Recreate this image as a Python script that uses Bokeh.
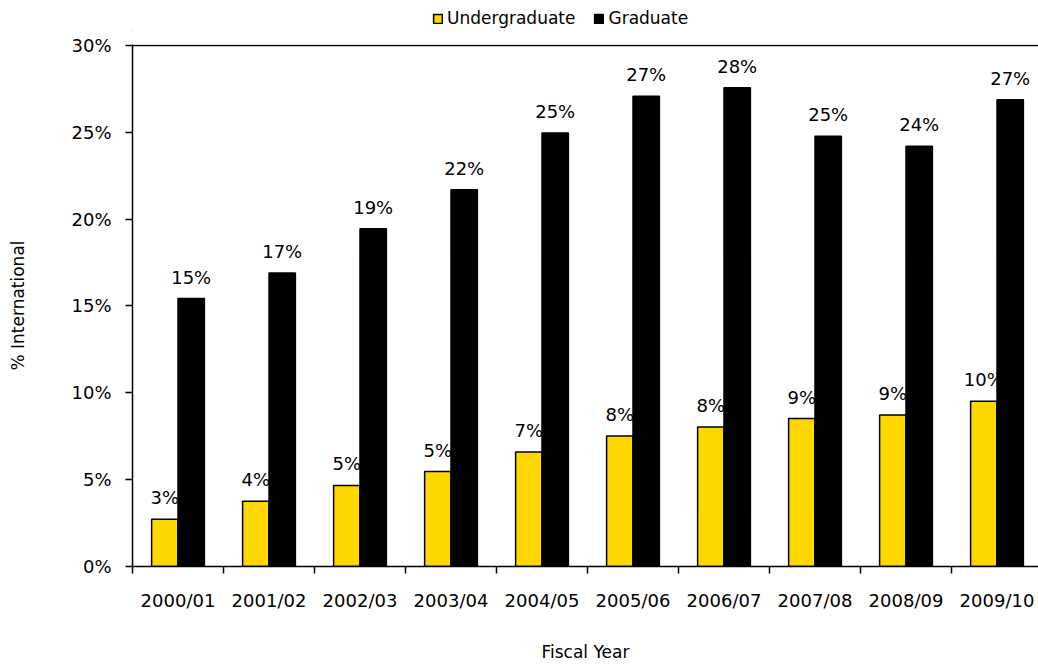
from bokeh.plotting import figure
from bokeh.layouts import column
from bokeh.models import Range1d, FixedTicker, NumeralTickFormatter, Span, Legend, LegendItem, ColumnDataSource
from bokeh.transform import dodge
from bokeh.core.properties import value
from bokeh.embed import file_html
from bokeh.resources import INLINE

years = ["2000/01", "2001/02", "2002/03", "2003/04", "2004/05",
         "2005/06", "2006/07", "2007/08", "2008/09", "2009/10"]
undergrad = [2.72, 3.75, 4.67, 5.47, 6.6, 7.52, 8.03, 8.52, 8.72, 9.52]
graduate = [15.43, 16.9, 19.45, 21.7, 24.96, 27.08, 27.56, 24.78, 24.2, 26.88]
series_names = ["Undergraduate", "Graduate"]

FONT = "DejaVu Sans"
FS = "18px"
LFS = "17px"
YELLOW = "#FFD700"

centers = [i + 0.5 for i in range(len(years))]
src = ColumnDataSource(dict(
    x=centers,
    ug=[v / 100 for v in undergrad],
    gr=[v / 100 for v in graduate],
    ug_lbl=["%d%%" % int(v + 0.5) for v in undergrad],
    gr_lbl=["%d%%" % int(v + 0.5) for v in graduate],
))

# ---- legend strip ----
lg = figure(width=1038, height=32, output_backend="svg", toolbar_location=None,
            x_range=Range1d(0, 1), y_range=Range1d(0, 1),
            min_border_left=0, min_border_right=0, min_border_top=0, min_border_bottom=0)
lg.axis.visible = False
lg.grid.visible = False
lg.outline_line_color = None
d_ug = lg.vbar(x=[-5], top=[-5], width=0.1, fill_color=YELLOW, line_color="black", line_width=1.5)
d_gr = lg.vbar(x=[-5], top=[-5], width=0.1, fill_color="black", line_color="black", line_width=1.5)
legend = Legend(items=[LegendItem(label=series_names[0], renderers=[d_ug]),
                       LegendItem(label=series_names[1], renderers=[d_gr])],
                orientation="horizontal", location=(300, 4),
                glyph_width=11, glyph_height=11, label_text_font=FONT,
                label_text_font_size=LFS, label_text_color="black",
                label_standoff=4, spacing=18,
                padding=0, margin=0, border_line_color=None,
                background_fill_alpha=0, label_height=20)
lg.add_layout(legend, "center")

# ---- main chart ----
p = figure(width=1038, height=632, output_backend="svg", toolbar_location=None,
           x_range=Range1d(0, 906 / 91), y_range=Range1d(0, 0.30 * 524 / 523),
           min_border_left=132, min_border_right=0, min_border_top=12, min_border_bottom=97)
p.outline_line_color = None
p.grid.visible = False
p.background_fill_color = "white"
p.border_fill_color = "white"

bw = 0.29
r_ug = p.vbar(x=dodge("x", -bw / 2), top="ug", width=bw, source=src,
              fill_color=YELLOW, line_color="black", line_width=1.5)
p.text(x=dodge("x", -bw / 2), y="ug", text="ug_lbl", source=src, text_align="center",
       text_baseline="bottom", y_offset=-11, text_font=value(FONT), text_font_size=value(FS),
       text_color="black")
r_gr = p.vbar(x=dodge("x", bw / 2), top="gr", width=bw, source=src,
              fill_color="black", line_color="black", line_width=1.5)
p.text(x=dodge("x", bw / 2), y="gr", text="gr_lbl", source=src, text_align="center",
       text_baseline="bottom", y_offset=-11, text_font=value(FONT), text_font_size=value(FS),
       text_color="black")

p.add_layout(Span(location=0.30, dimension="width", line_color="black", line_width=1.5))

# x axis
xa = p.xaxis[0]
xa.ticker = FixedTicker(ticks=centers, minor_ticks=list(range(len(years) + 1)))
xa.major_label_overrides = {c: y for c, y in zip(centers, years)}
xa.major_tick_out = 0
xa.major_tick_in = 0
xa.minor_tick_out = 7
xa.minor_tick_in = 0
xa.minor_tick_line_color = "black"
xa.minor_tick_line_width = 1.5
xa.axis_line_width = 1.5
xa.axis_line_color = "black"
xa.major_label_standoff = 16
xa.axis_label = "Fiscal Year"
xa.axis_label_standoff = 28
xa.axis_label_text_font_style = "normal"

ya = p.yaxis[0]
ya.ticker = FixedTicker(ticks=[0, 0.05, 0.10, 0.15, 0.20, 0.25, 0.30])
ya.formatter = NumeralTickFormatter(format="0%")
ya.major_tick_out = 7
ya.major_tick_in = 0
ya.major_tick_line_width = 1.5
ya.minor_tick_out = 0
ya.minor_tick_in = 0
ya.axis_line_width = 1.5
ya.major_label_standoff = 14
ya.axis_label = "% International"
ya.axis_label_standoff = 40
ya.axis_label_text_font_style = "normal"

for ax in (xa, ya):
    ax.major_label_text_font = FONT
    ax.major_label_text_font_size = FS
    ax.major_label_text_color = "black"
    ax.axis_label_text_font = FONT
    ax.axis_label_text_font_size = LFS
    ax.axis_label_text_color = "black"

layout = column(lg, p, spacing=0)
open("out.html", "w").write(file_html(layout, INLINE))
